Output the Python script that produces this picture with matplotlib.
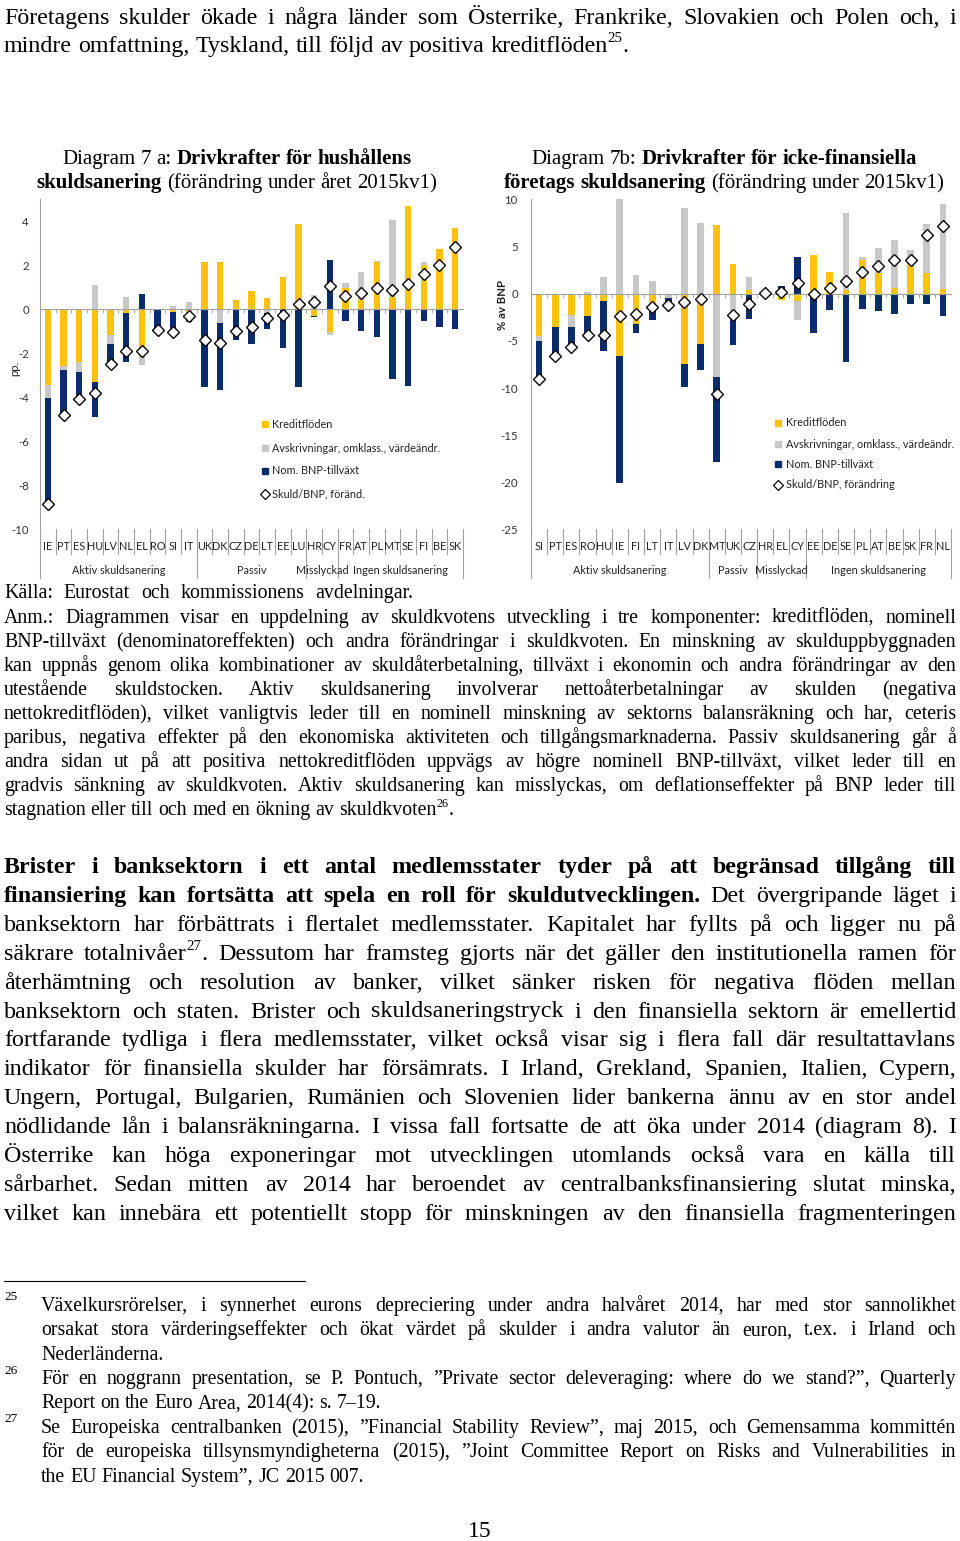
import re
import numpy as np
import matplotlib
matplotlib.use('Agg')
from matplotlib import pyplot as plt
from matplotlib.lines import Line2D
from matplotlib.patches import Rectangle
import matplotlib.transforms as mtransforms

plt.rcParams['axes.unicode_minus'] = False

# ---- data, diagram 7a (hushall) ----
hh_land = ['IE', 'PT', 'ES', 'HU', 'LV', 'NL', 'EL', 'RO', 'SI', 'IT', 'UK', 'DK', 'CZ', 'DE',
           'LT', 'EE', 'LU', 'HR', 'CY', 'FR', 'AT', 'PL', 'MT', 'SE', 'FI', 'BE', 'SK']
hh_kredit = [-3.45, -2.6, -2.4, -3.3, -1.2, -0.2, -2.15, -0.05, -0.15, -0.2, 2.15, 2.15, 0.4, 0.8,
             0.5, 1.45, 3.85, -0.3, -1.05, 0.95, 0.4, 2.15, 0.55, 4.7, 2.0, 2.75, 3.7]
hh_avskr = [-0.6, -0.15, -0.45, 1.1, -0.4, 0.55, -0.4, 0.0, 0.15, 0.3, 0.0, -0.65, 0.0, 0.0,
            -0.2, 0.0, 0.0, 0.65, -0.15, 0.25, 1.3, 0.05, 3.5, 0.0, 0.15, 0.0, 0.0]
hh_bnp = [-4.8, -2.0, -1.25, -1.6, -0.9, -2.2, 0.7, -0.95, -1.0, -0.4, -3.55, -3.05, -1.4, -1.6,
          -0.7, -1.75, -3.55, -0.05, 2.25, -0.55, -1.0, -1.25, -3.2, -3.5, -0.55, -0.8, -0.9]
hh_skuld = [-8.85, -4.8, -4.1, -3.8, -2.5, -1.9, -1.9, -0.95, -1.05, -0.3, -1.4, -1.55, -1.0, -0.8,
            -0.4, -0.25, 0.25, 0.3, 1.05, 0.6, 0.75, 0.95, 0.85, 1.15, 1.6, 2.0, 2.8]
hh_grupper = ['Aktiv skuldsanering', 'Passiv', 'Misslyckad', 'Ingen skuldsanering']
hh_gruppstorlek = [10, 7, 2, 8]

# ---- data, diagram 7b (icke-finansiella foretag) ----
nf_land = ['SI', 'PT', 'ES', 'RO', 'HU', 'IE', 'FI', 'LT', 'IT', 'LV', 'DK', 'MT', 'UK', 'CZ',
           'HR', 'EL', 'CY', 'EE', 'DE', 'SE', 'PL', 'AT', 'BE', 'SK', 'FR', 'NL']
nf_kredit = [-4.5, -3.5, -2.3, -2.4, -0.8, -6.65, -3.2, -1.35, 0.0, -7.5, -5.3, 7.25, 3.1, 0.35,
             0.1, -0.65, -0.8, 4.1, 2.25, 0.35, 3.55, 2.2, 0.6, 3.1, 2.15, 0.45]
nf_avskr = [-0.5, 0.0, -1.25, 0.15, 1.7, 17.7, 2.0, 1.35, -0.5, 9.05, 7.45, -8.8, -2.15, 1.35,
            0.0, 0.0, -1.95, 0.0, 0.0, 8.15, 0.3, 2.6, 5.05, 1.55, 5.25, 9.05]
nf_bnp = [-4.0, -3.15, -2.05, -2.1, -5.25, -13.4, -1.0, -1.4, -0.7, -2.4, -2.75, -9.0, -3.25, -2.7,
          -0.05, 0.8, 3.9, -4.2, -1.7, -7.2, -1.6, -1.85, -2.2, -1.15, -1.15, -2.4]
nf_skuld = [-9.0, -6.65, -5.6, -4.4, -4.35, -2.4, -2.15, -1.4, -1.2, -0.85, -0.6, -10.6, -2.25, -1.05,
            0.05, 0.15, 1.15, -0.05, 0.55, 1.3, 2.25, 2.95, 3.5, 3.5, 6.2, 7.1]
nf_grupper = ['Aktiv skuldsanering', 'Passiv', 'Misslyckad', 'Ingen skuldsanering']
nf_gruppstorlek = [11, 3, 3, 9]

serie_namn = ['Kreditflöden', 'Avskrivningar, omklass., värdeändr.', 'Nom. BNP-tillväxt']

GUL = '#FFC20E'
GRA = '#C8C8C8'
BLA = '#0A2C6B'
AXEL = '#A0A0A0'
SANS = 'Lato'
SERIF = 'Liberation Serif'
CFS = 7.8  # chart font size

W, H = 960, 1541
fig = plt.figure(figsize=(W / 100, H / 100), dpi=100)
renderer = fig.canvas.get_renderer()


def fx(x):
    return x / W


def fy(y):
    return 1 - y / H


def chart(box, land, kredit, avskr, bnp, skuld, grupper, storlek, ylim, yticks, pad):
    x0, y0, x1, y1 = box
    ax = fig.add_axes([fx(x0), fy(y1), (x1 - x0) / W, (y1 - y0) / H])
    n = len(land)
    x = np.arange(n)
    pos = np.zeros(n)
    neg = np.zeros(n)
    # excel-style stacking: positives up from 0, negatives down from 0
    for vals, c, lab in zip([kredit, avskr, bnp], [GUL, GRA, BLA], serie_namn):
        v = np.asarray(vals, dtype=float)
        bottom = np.where(v >= 0, pos, neg)
        ax.bar(x, v, 0.42, bottom=bottom, color=c, label=lab, zorder=2)
        pos += np.clip(v, 0, None)
        neg += np.clip(v, None, 0)
    ax.plot(x, skuld, ls='none', marker='D', ms=6.3, mfc='white', mec='black', mew=1.0, zorder=5)

    ax.set_xlim(-0.5, n - 0.5)
    ax.set_ylim(*ylim)
    ax.set_yticks(yticks)
    ax.set_yticklabels([str(t) for t in yticks], fontsize=8.2, family=SANS, color='#333333')
    ax.tick_params(axis='y', length=0, pad=pad)
    ax.set_xticks([])
    ax.set_xticks(np.arange(n - 1) + 0.5, minor=True)
    ax.tick_params(axis='x', which='minor', length=3, direction='out', color=AXEL, labelbottom=False)
    for s in ['top', 'right']:
        ax.spines[s].set_visible(False)
    ax.spines['bottom'].set_position(('data', 0))
    ax.spines['bottom'].set_color(AXEL)
    ax.spines['left'].set_color(AXEL)
    ax.spines['left'].set_linewidth(0.8)
    ax.spines['bottom'].set_linewidth(0.8)
    ax.patch.set_alpha(0)

    # category labels + separators below the plot area
    tr = mtransforms.blended_transform_factory(ax.transData, fig.transFigure)
    for i, l in enumerate(land):
        ax.text(i, fy(546), l, transform=tr, ha='center', va='center', fontsize=CFS,
                family=SANS, color='#222222')
    grens = list(np.cumsum(storlek) - 0.5)
    for b in np.arange(n + 1) - 0.5:
        lang = (b == -0.5) or (b in grens)
        ax.plot([b, b], [fy(529), fy(578 if lang else 554)], transform=tr, color=AXEL,
                lw=0.8, clip_on=False)
    start = 0
    for g, s in zip(grupper, storlek):
        mid = start + (s - 1) / 2
        ax.text(mid, fy(570), g, transform=tr, ha='center', va='center', fontsize=CFS,
                family=SANS, color='#222222')
        start += s
    return ax


def legend(x_sq, x_txt, rows, labels):
    for yy, lab, c in zip(rows[:3], labels[:3], [GUL, GRA, BLA]):
        fig.add_artist(Rectangle((fx(x_sq - 3), fy(yy + 3)), 6 / W, 6 / H, color=c,
                                 transform=fig.transFigure))
        fig.text(fx(x_txt), fy(yy), lab, fontsize=CFS, family=SANS, va='center', color='#222222')
    fig.add_artist(Line2D([fx(x_sq)], [fy(rows[3])], marker='D', ms=4.8, mfc='white', mec='black',
                          mew=0.9, transform=fig.transFigure))
    fig.text(fx(x_txt), fy(rows[3]), labels[3], fontsize=CFS, family=SANS, va='center', color='#222222')


ax1 = chart((40, 199, 463, 529), hh_land, hh_kredit, hh_avskr, hh_bnp, hh_skuld,
            hh_grupper, hh_gruppstorlek, (-10, 5), list(range(-10, 5, 2)), 8)
ax2 = chart((531, 199, 951, 530), nf_land, nf_kredit, nf_avskr, nf_bnp, nf_skuld,
            nf_grupper, nf_gruppstorlek, (-25, 10), list(range(-25, 11, 5)), 9.5)

legend(265, 272, [424, 448, 471, 494], serie_namn + ['Skuld/BNP, föränd.'])
legend(778, 786, [423, 444, 464, 485], serie_namn + ['Skuld/BNP, förändring'])

fig.text(fx(15), fy(368), 'pp.', rotation=90, ha='center', va='center', fontsize=8.2,
         family=SANS, color='#222222')
fig.text(fx(503), fy(305), '% av BNP', rotation=90, ha='center', va='center', fontsize=8.2,
         family=SANS, fontweight='bold', color='#222222')


# ---- running text, word by word so lines can be justified ----
def word_pieces(tok, weight):
    out = []
    for p in re.split(r'(\{[^}]*\})', tok):
        if not p:
            continue
        if p.startswith('{'):
            out.append((p[1:-1], 'sup'))
        else:
            out.append((p, weight))
    return out


def text_line(yb, segs, size, x0=4, x1=956, align='justify'):
    if isinstance(segs, str):
        segs = [(segs, 'n')]
    while True:
        arts = []
        widths = []
        for txt, wt in segs:
            for tok in txt.split():
                wa = []
                ww = 0
                for s, kind in word_pieces(tok, wt):
                    fs = size * 0.62 if kind == 'sup' else size
                    t = fig.text(0, 0, s, fontsize=fs, family=SERIF, va='baseline', ha='left',
                                 fontweight='bold' if kind == 'b' else 'normal', color='black')
                    wa.append((t, ww, kind))
                    ww += t.get_window_extent(renderer).width
                arts.append(wa)
                widths.append(ww)
        sp = size * 100 / 72 * 0.25
        n = len(widths)
        total = sum(widths)
        if align == 'justify' and n > 1:
            gap = (x1 - x0 - total) / (n - 1)
            if gap < 0.6 * sp:
                for wa in arts:
                    for t, _, _ in wa:
                        t.remove()
                size *= 0.98
                continue
        else:
            gap = sp
        break
    line_w = total + gap * (n - 1)
    xs = (x0 + x1) / 2 - line_w / 2 if align == 'center' else x0
    for wa, ww in zip(arts, widths):
        for t, off, kind in wa:
            yy = yb - (size * 100 / 72 * 0.42 if kind == 'sup' else 0)
            t.set_position((fx(xs + off), fy(yy)))
        xs += ww + gap


BIG = 17.3
MID = 14.3
TIT = 15

text_line(24, 'Företagens skulder ökade i några länder som Österrike, Frankrike, Slovakien och Polen och, i', BIG)
text_line(52, 'mindre omfattning, Tyskland, till följd av positiva kreditflöden{25}.', BIG, align='left')

text_line(164, [('Diagram 7 a:', 'n'), ('Drivkrafter för hushållens', 'b')], TIT, 4, 470, 'center')
text_line(188, [('skuldsanering', 'b'), ('(förändring under året 2015kv1)', 'n')], TIT, 4, 470, 'center')
text_line(164, [('Diagram 7b:', 'n'), ('Drivkrafter för icke-finansiella', 'b')], TIT, 490, 958, 'center')
text_line(188, [('företags skuldsanering', 'b'), ('(förändring under 2015kv1)', 'n')], TIT, 490, 958, 'center')

text_line(598, 'Källa: Eurostat och kommissionens avdelningar.', MID, 4, 413)

anm = [
    'Anm.: Diagrammen visar en uppdelning av skuldkvotens utveckling i tre komponenter: kreditflöden, nominell',
    'BNP-tillväxt (denominatoreffekten) och andra förändringar i skuldkvoten. En minskning av skulduppbyggnaden',
    'kan uppnås genom olika kombinationer av skuldåterbetalning, tillväxt i ekonomin och andra förändringar av den',
    'utestående skuldstocken. Aktiv skuldsanering involverar nettoåterbetalningar av skulden (negativa',
    'nettokreditflöden), vilket vanligtvis leder till en nominell minskning av sektorns balansräkning och har, ceteris',
    'paribus, negativa effekter på den ekonomiska aktiviteten och tillgångsmarknaderna. Passiv skuldsanering går å',
    'andra sidan ut på att positiva nettokreditflöden uppvägs av högre nominell BNP-tillväxt, vilket leder till en',
    'gradvis sänkning av skuldkvoten. Aktiv skuldsanering kan misslyckas, om deflationseffekter på BNP leder till',
    'stagnation eller till och med en ökning av skuldkvoten{26}.',
]
for i, l in enumerate(anm):
    text_line(623 + 24 * i, l, MID, align='left' if i == len(anm) - 1 else 'justify')

brister = [
    [('Brister i banksektorn i ett antal medlemsstater tyder på att begränsad tillgång till', 'b')],
    [('finansiering kan fortsätta att spela en roll för skuldutvecklingen.', 'b'), ('Det övergripande läget i', 'n')],
    'banksektorn har förbättrats i flertalet medlemsstater. Kapitalet har fyllts på och ligger nu på',
    'säkrare totalnivåer{27}. Dessutom har framsteg gjorts när det gäller den institutionella ramen för',
    'återhämtning och resolution av banker, vilket sänker risken för negativa flöden mellan',
    'banksektorn och staten. Brister och skuldsaneringstryck i den finansiella sektorn är emellertid',
    'fortfarande tydliga i flera medlemsstater, vilket också visar sig i flera fall där resultattavlans',
    'indikator för finansiella skulder har försämrats. I Irland, Grekland, Spanien, Italien, Cypern,',
    'Ungern, Portugal, Bulgarien, Rumänien och Slovenien lider bankerna ännu av en stor andel',
    'nödlidande lån i balansräkningarna. I vissa fall fortsatte de att öka under 2014 (diagram 8). I',
    'Österrike kan höga exponeringar mot utvecklingen utomlands också vara en källa till',
    'sårbarhet. Sedan mitten av 2014 har beroendet av centralbanksfinansiering slutat minska,',
    'vilket kan innebära ett potentiellt stopp för minskningen av den finansiella fragmenteringen',
]
for i, l in enumerate(brister):
    text_line(873 + 28.9 * i, l, BIG)

# footnotes
fig.add_artist(Line2D([fx(4), fx(305)], [fy(1281), fy(1281)], color='black', lw=0.8,
                      transform=fig.transFigure))
fotnoter = [
    ('25', 1300, ['Växelkursrörelser, i synnerhet eurons depreciering under andra halvåret 2014, har med stor sannolikhet',
                  'orsakat stora värderingseffekter och ökat värdet på skulder i andra valutor än euron, t.ex. i Irland och',
                  'Nederländerna.'], 1311),
    ('26', 1374, ['För en noggrann presentation, se P. Pontuch, ”Private sector deleveraging: where do we stand?”, Quarterly',
                  'Report on the Euro Area, 2014(4): s. 7–19.'], 1384),
    ('27', 1422, ['Se Europeiska centralbanken (2015), ”Financial Stability Review”, maj 2015, och Gemensamma kommittén',
                  'för de europeiska tillsynsmyndigheterna (2015), ”Joint Committee Report on Risks and Vulnerabilities in',
                  'the EU Financial System”, JC 2015 007.'], 1433),
]
for nr, ynr, rader, y0 in fotnoter:
    fig.text(fx(4), fy(ynr), nr, fontsize=9.5, family=SERIF, va='baseline', color='black')
    for i, l in enumerate(rader):
        text_line(y0 + 24.3 * i, l, MID, 41, 956, 'left' if i == len(rader) - 1 else 'justify')

fig.text(0.5, fy(1537), '15', fontsize=17, family=SERIF, ha='center', va='baseline', color='black')

fig.savefig('out.png', dpi=100, facecolor='white')
